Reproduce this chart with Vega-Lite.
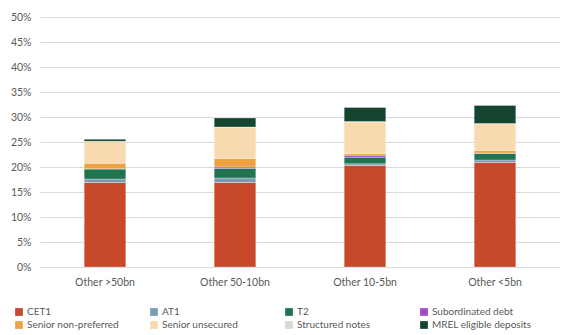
{
  "$schema": "https://vega.github.io/schema/vega-lite/v6.json",
  "width": 520,
  "height": 250,
  "autosize": {"type": "none"},
  "padding": {"left": 40, "top": 17, "right": 7, "bottom": 68},
  "background": "#ffffff",
  "config": {
    "font": "Lato",
    "view": {"stroke": null},
    "axis": {"labelColor": "#595959", "labelFontSize": 10.5, "labelFont": "Lato"},
    "legend": {"labelColor": "#595959", "labelFontSize": 10, "labelFont": "Lato"}
  },
  "data": {
    "values": [
      {"group": "Other >50bn", "layer": "CET1", "k": 1, "pct": 16.9},
      {"group": "Other >50bn", "layer": "AT1", "k": 2, "pct": 0.7},
      {"group": "Other >50bn", "layer": "T2", "k": 3, "pct": 2.0},
      {"group": "Other >50bn", "layer": "Subordinated debt", "k": 4, "pct": 0.05},
      {"group": "Other >50bn", "layer": "Senior non-preferred", "k": 5, "pct": 1.1},
      {"group": "Other >50bn", "layer": "Senior unsecured", "k": 6, "pct": 4.4},
      {"group": "Other >50bn", "layer": "Structured notes", "k": 7, "pct": 0.0},
      {"group": "Other >50bn", "layer": "MREL eligible deposits", "k": 8, "pct": 0.4},

      {"group": "Other 50-10bn", "layer": "CET1", "k": 1, "pct": 16.9},
      {"group": "Other 50-10bn", "layer": "AT1", "k": 2, "pct": 0.9},
      {"group": "Other 50-10bn", "layer": "T2", "k": 3, "pct": 1.9},
      {"group": "Other 50-10bn", "layer": "Subordinated debt", "k": 4, "pct": 0.3},
      {"group": "Other 50-10bn", "layer": "Senior non-preferred", "k": 5, "pct": 1.7},
      {"group": "Other 50-10bn", "layer": "Senior unsecured", "k": 6, "pct": 6.3},
      {"group": "Other 50-10bn", "layer": "Structured notes", "k": 7, "pct": 0.0},
      {"group": "Other 50-10bn", "layer": "MREL eligible deposits", "k": 8, "pct": 1.8},

      {"group": "Other 10-5bn", "layer": "CET1", "k": 1, "pct": 20.3},
      {"group": "Other 10-5bn", "layer": "AT1", "k": 2, "pct": 0.35},
      {"group": "Other 10-5bn", "layer": "T2", "k": 3, "pct": 1.3},
      {"group": "Other 10-5bn", "layer": "Subordinated debt", "k": 4, "pct": 0.4},
      {"group": "Other 10-5bn", "layer": "Senior non-preferred", "k": 5, "pct": 0.35},
      {"group": "Other 10-5bn", "layer": "Senior unsecured", "k": 6, "pct": 6.3},
      {"group": "Other 10-5bn", "layer": "Structured notes", "k": 7, "pct": 0.1},
      {"group": "Other 10-5bn", "layer": "MREL eligible deposits", "k": 8, "pct": 2.8},

      {"group": "Other <5bn", "layer": "CET1", "k": 1, "pct": 20.9},
      {"group": "Other <5bn", "layer": "AT1", "k": 2, "pct": 0.5},
      {"group": "Other <5bn", "layer": "T2", "k": 3, "pct": 1.3},
      {"group": "Other <5bn", "layer": "Subordinated debt", "k": 4, "pct": 0.1},
      {"group": "Other <5bn", "layer": "Senior non-preferred", "k": 5, "pct": 0.5},
      {"group": "Other <5bn", "layer": "Senior unsecured", "k": 6, "pct": 5.3},
      {"group": "Other <5bn", "layer": "Structured notes", "k": 7, "pct": 0.1},
      {"group": "Other <5bn", "layer": "MREL eligible deposits", "k": 8, "pct": 3.6}
    ]
  },
  "mark": {"type": "bar", "stroke": "#ffffff", "strokeWidth": 0.6, "strokeOpacity": 0.5},
  "encoding": {
    "x": {
      "field": "group",
      "type": "nominal",
      "sort": null,
      "title": null,
      "scale": {"paddingInner": 0.68, "paddingOuter": 0.34},
      "axis": {"labelAngle": 0, "ticks": false, "domain": false, "labelPadding": 10}
    },
    "y": {
      "field": "pct",
      "type": "quantitative",
      "stack": "zero",
      "title": null,
      "scale": {"domain": [0, 50], "nice": false},
      "axis": {
        "values": [0, 5, 10, 15, 20, 25, 30, 35, 40, 45, 50],
        "labelExpr": "datum.value + '%'",
        "domain": false,
        "ticks": false,
        "labelPadding": 9,
        "gridColor": "#d9d9d9",
        "gridWidth": 1
      }
    },
    "order": {"field": "k", "type": "quantitative", "sort": "ascending"},
    "color": {
      "field": "layer",
      "type": "nominal",
      "scale": {
        "domain": ["CET1", "AT1", "T2", "Subordinated debt", "Senior non-preferred", "Senior unsecured", "Structured notes", "MREL eligible deposits"],
        "range": ["#c8482c", "#7b9bb0", "#1f7550", "#a34ac0", "#efa241", "#f8d9b0", "#d9d9d9", "#15452f"]
      },
      "legend": {
        "title": null,
        "orient": "none",
        "direction": "horizontal",
        "legendX": -26,
        "legendY": 290,
        "columns": 4,
        "gridAlign": "all",
        "columnPadding": 22,
        "rowPadding": 3,
        "symbolType": "square",
        "symbolSize": 60,
        "symbolStrokeWidth": 0,
        "labelOffset": 3
      }
    }
  }
}
